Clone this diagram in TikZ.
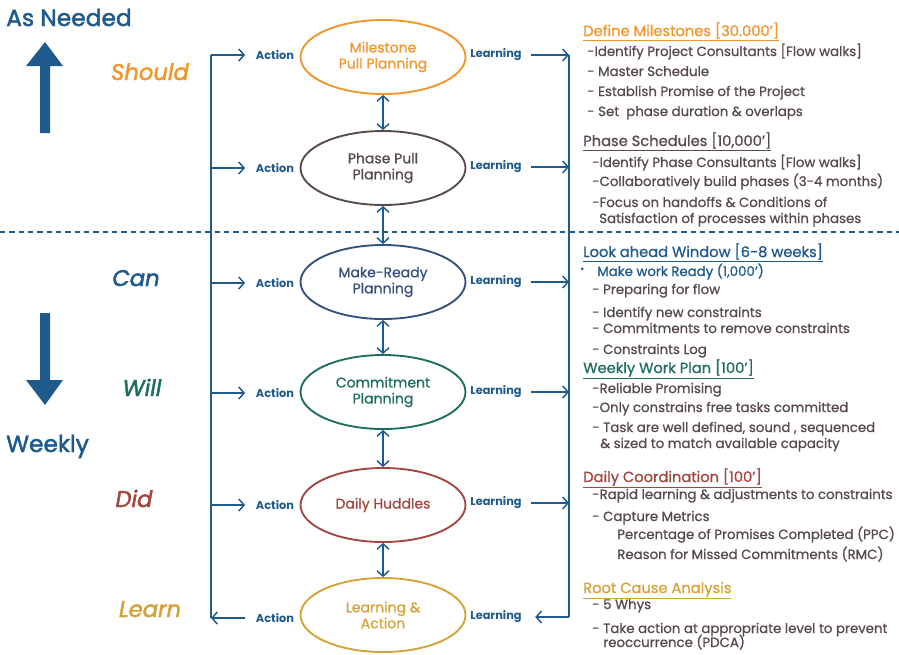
\documentclass[tikz,border=0pt]{standalone}
\usepackage{fontspec}
\setmainfont{Poppins}[FakeBold=0.9]
\newfontfamily\heavyfont{Poppins}[FakeBold=2]
\newfontfamily\plainfont{Poppins}
\usetikzlibrary{arrows.meta,shapes.geometric}
\definecolor{myblue}{HTML}{1E5A8C}
\definecolor{myorange}{HTML}{F2962B}
\definecolor{mygrey}{HTML}{574A4B}
\definecolor{mynavy}{HTML}{34507F}
\definecolor{myteal}{HTML}{1E6E5F}
\definecolor{myred}{HTML}{A2463F}
\definecolor{mygold}{HTML}{D4A236}
\tikzset{
  ell/.style={ellipse, draw, line width=1.4pt, minimum width=123.75pt, minimum height=55.5pt,
    align=center, inner sep=0pt, font=\fontsize{10.5}{12}\selectfont},
  lbl/.style={font=\plainfont\bfseries\fontsize{8.5}{10}\selectfont, text=myblue, inner sep=0pt},
  flow/.style={draw=myblue, line width=1.1pt, -{Straight Barb[length=4pt,width=9pt]}},
  both/.style={draw=myblue, line width=1.1pt, {Straight Barb[length=4pt,width=9pt]}-{Straight Barb[length=4pt,width=9pt]}},
  rail/.style={draw=myblue, line width=1.1pt},
  body/.style={anchor=base west, inner sep=0pt, text=mygrey, font=\fontsize{10}{12}\selectfont},
  heading/.style={body, font=\fontsize{11}{13}\selectfont},
  word/.style={anchor=base, inner sep=0pt, font=\heavyfont\itshape\fontsize{17}{20}\selectfont},
  side/.style={anchor=base west, inner sep=0pt, text=myblue, font=\heavyfont\fontsize{17.5}{20}\selectfont},
}
\begin{document}
\begin{tikzpicture}[x=0.75pt,y=-0.75pt]
\useasboundingbox (0,0) rectangle (899,654);

% time-scale legend
\node[side] (asneeded) at (6,26) {As Needed};
\node[side] (weekly) at (6,452) {Weekly};
\fill[myblue] (45,42) -- (63,66) -- (50,66) -- (50,133) -- (40,133) -- (40,66) -- (26,66) -- cycle;
\fill[myblue] (45,405) -- (63,380) -- (50,380) -- (50,313) -- (40,313) -- (40,380) -- (26,380) -- cycle;

\node[word, text=myorange] (should) at (150,80) {Should};
\node[word, text=myblue] (can) at (136,286) {Can};
\node[word, text=myteal] (will) at (142,396) {Will};
\node[word, text=myred] (did) at (134,507) {Did};
\node[word, text=mygold] (learn) at (150,617) {Learn};

% divider between pull planning and weekly levels
\draw[myblue, line width=1.1pt, dash pattern=on 4pt off 3pt] (0,232) -- (899,232);

% planning levels
\node[ell, draw=myorange, text=myorange] (e1) at (383,57) {Milestone\\Pull Planning};
\node[ell, draw=mygrey, text=mygrey] (e2) at (383,168) {Phase Pull\\Planning};
\node[ell, draw=mynavy, text=mynavy] (e3) at (383,282) {Make-Ready\\Planning};
\node[ell, draw=myteal, text=myteal] (e4) at (383,392) {Commitment\\Planning};
\node[ell, draw=myred, text=myred] (e5) at (383,505) {Daily Huddles};
\node[ell, draw=mygold, text=mygold] (e6) at (383,615) {Learning \&\\Action};

\foreach \a/\b in {e1/e2,e2/e3,e3/e4,e4/e5,e5/e6}
  \draw[both] (\a.south) -- (\b.north);

% action and learning labels
\foreach \i/\ya/\yl in {1/55/55, 2/168/167, 3/283/282, 4/393/392, 5/505/503, 6/618/617} {
  \node[lbl] (a\i) at (275,\ya) {Action};
  \node[lbl] (l\i) at (496,\yl) {Learning};
  \coordinate (la\i) at (211,\ya);
  \coordinate (rl\i) at (569,\yl);
}

% action rail on the left
\draw[rail] (la1) -- (la6);
\foreach \i in {1,...,5}
  \draw[flow] (la\i) -- ([xshift=-8pt]a\i.west);
\draw[flow] ([xshift=-8pt]a6.west) -- (la6);

% learning rail on the right
\draw[rail] (rl1) -- (rl6);
\foreach \i in {1,...,5}
  \draw[flow] ([xshift=7pt]l\i.east) -- (rl\i);
\draw[flow] (rl6) -- ([xshift=10pt]l6.east);

% descriptions
\node[heading, text=myorange] (h1) at (583,36) {\underline{Define Milestones [30.000']}};
\node[body] (t11) at (587,56) {-Identify Project Consultants [Flow walks]};
\node[body] (t12) at (587,76) {- Master Schedule};
\node[body] (t13) at (587,96) {- Establish Promise of the Project};
\node[body] (t14) at (587,116) {- Set\ \ phase duration \& overlaps};

\node[heading, text=mygrey] (h2) at (583,146) {\underline{Phase Schedules [10,000']}};
\node[body] (t21) at (592,167) {-Identify Phase Consultants [Flow walks]};
\node[body] (t22) at (592,186) {-Collaboratively build phases (3-4 months)};
\node[body] (t23) at (592,207) {-Focus on handoffs \& Conditions of};
\node[body] (t24) at (599,223) {Satisfaction of processes within phases};

\node[heading, text=myblue] (h3) at (583,257) {\underline{Look ahead Window [6-8 weeks]}};
\node[body, text=myblue, font=\fontsize{7}{8}\selectfont] (b3) at (580,272) {•};
\node[body, text=myblue] (t31) at (597,276) {Make work Ready (1,000')};
\node[body] (t32) at (592,294) {- Preparing for flow};
\node[body] (t33) at (592,317) {- Identify new constraints};
\node[body] (t34) at (592,333) {- Commitments to remove constraints};
\node[body] (t35) at (592,354) {- Constraints Log};

\node[heading, text=myteal] (h4) at (583,373) {\underline{Weekly Work Plan [100']}};
\node[body] (t41) at (592,393) {-Reliable Promising};
\node[body] (t42) at (592,412) {-Only constrains free tasks committed};
\node[body] (t43) at (592,432) {- Task are well defined, sound , sequenced};
\node[body] (t44) at (600,448) {\& sized to match available capacity};

\node[heading, text=myred] (h5) at (583,482) {\underline{Daily Coordination [100']}};
\node[body] (t51) at (592,499) {-Rapid learning \& adjustments to constraints};
\node[body] (t52) at (592,521) {- Capture Metrics};
\node[body] (t53) at (617,539) {Percentage of Promises Completed (PPC)};
\node[body] (t54) at (617,559) {Reason for Missed Commitments (RMC)};

\node[heading, text=mygold] (h6) at (583,593) {\underline{Root Cause Analysis}};
\node[body] (t61) at (592,609) {- 5 Whys};
\node[body] (t62) at (592,633) {- Take action at appropriate level to prevent};
\node[body] (t63) at (603,647) {reoccurrence (PDCA)};
\end{tikzpicture}
\end{document}
